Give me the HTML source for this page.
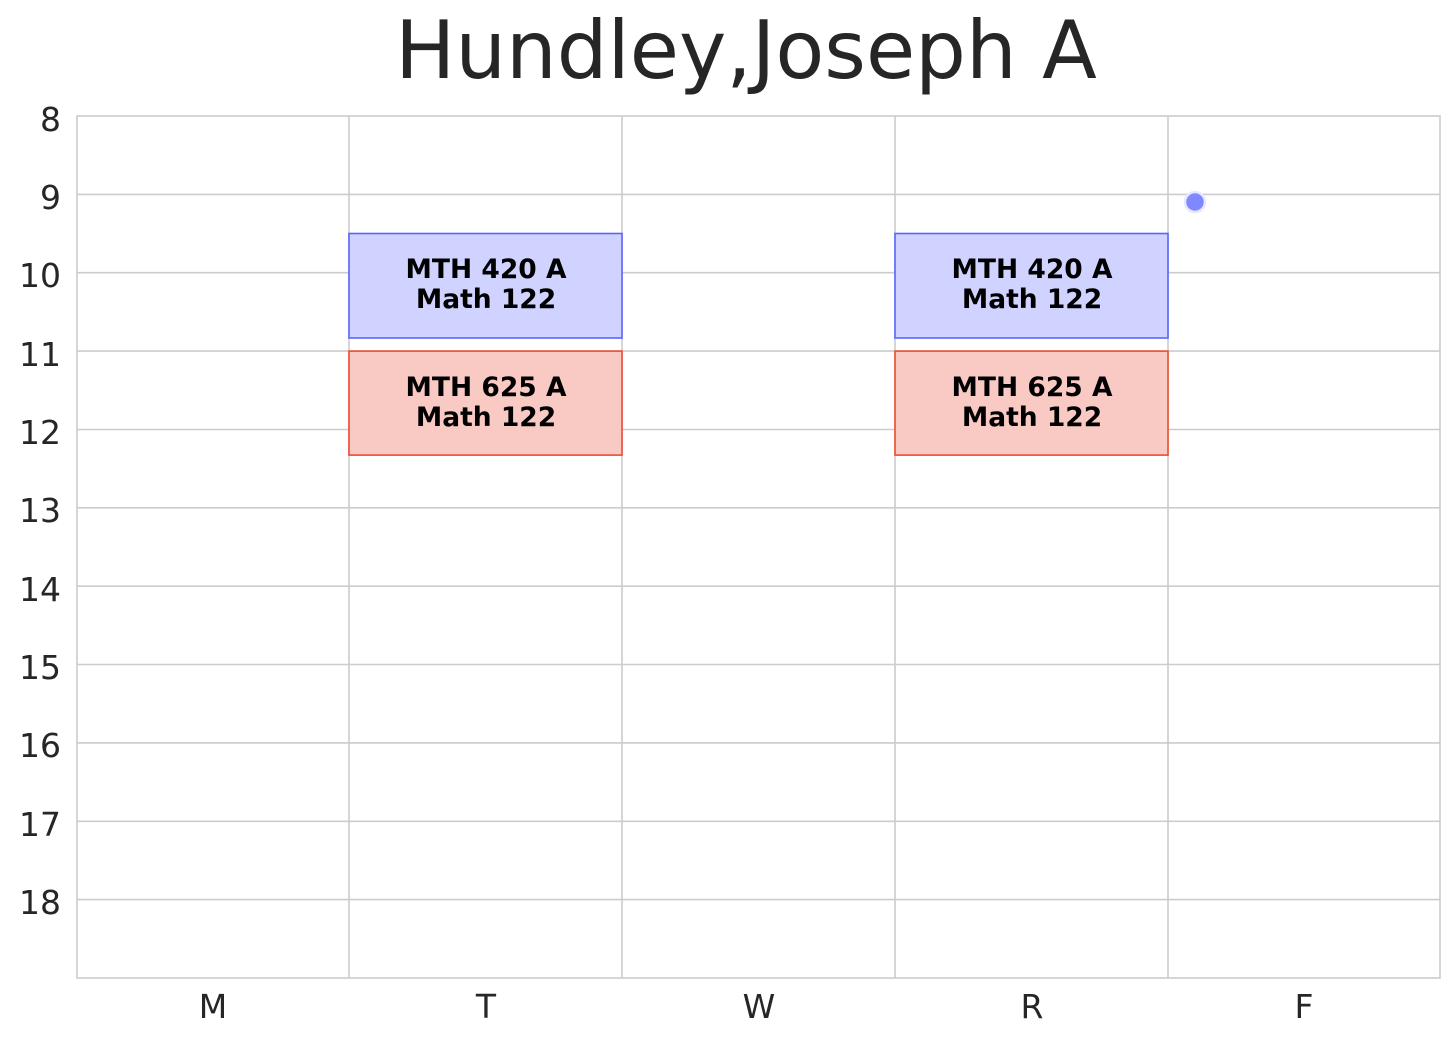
<!DOCTYPE html>
<html><head><style>body{margin:0;background:#fff}</style></head><body>
<svg width="1456" height="1040" xmlns="http://www.w3.org/2000/svg" font-family="DejaVu Sans, Liberation Sans, sans-serif">
<rect width="1456" height="1040" fill="#fff"/>
<text x="746" y="78" font-size="80" fill="#262626" text-anchor="middle">Hundley,Joseph A</text>
<g stroke="#cccccc" stroke-width="1.6">
<line x1="349" y1="116" x2="349" y2="978"/><line x1="622" y1="116" x2="622" y2="978"/>
<line x1="895" y1="116" x2="895" y2="978"/><line x1="1168" y1="116" x2="1168" y2="978"/>
<line x1="77" y1="194.4" x2="1440" y2="194.4"/><line x1="77" y1="272.7" x2="1440" y2="272.7"/>
<line x1="77" y1="351.1" x2="1440" y2="351.1"/><line x1="77" y1="429.5" x2="1440" y2="429.5"/>
<line x1="77" y1="507.8" x2="1440" y2="507.8"/><line x1="77" y1="586.2" x2="1440" y2="586.2"/>
<line x1="77" y1="664.5" x2="1440" y2="664.5"/><line x1="77" y1="742.9" x2="1440" y2="742.9"/>
<line x1="77" y1="821.3" x2="1440" y2="821.3"/><line x1="77" y1="899.6" x2="1440" y2="899.6"/>
<rect x="77" y="116" width="1363" height="862" fill="none"/>
</g>
<g stroke-width="1.6">
<rect x="349" y="233.5" width="273" height="104.5" fill="#d0d2ff" stroke="#5a64ff"/>
<rect x="895" y="233.5" width="273" height="104.5" fill="#d0d2ff" stroke="#5a64ff"/>
<rect x="349" y="351.1" width="273" height="104" fill="#f9cac3" stroke="#f04a30"/>
<rect x="895" y="351.1" width="273" height="104" fill="#f9cac3" stroke="#f04a30"/>
</g>
<g font-size="26.5" font-weight="bold" text-anchor="middle" fill="#000">
<text x="486" y="278">MTH 420 A</text><text x="486" y="308">Math 122</text>
<text x="1032" y="278">MTH 420 A</text><text x="1032" y="308">Math 122</text>
<text x="486" y="396">MTH 625 A</text><text x="486" y="426">Math 122</text>
<text x="1032" y="396">MTH 625 A</text><text x="1032" y="426">Math 122</text>
</g>
<circle cx="1195" cy="202" r="10" fill="#8088ff" stroke="#e6e8ff" stroke-width="2.5"/>
<g font-size="33" fill="#262626" text-anchor="end">
<text x="61" y="131">8</text><text x="61" y="209">9</text><text x="61" y="287">10</text>
<text x="61" y="366">11</text><text x="61" y="444">12</text><text x="61" y="522">13</text>
<text x="61" y="601">14</text><text x="61" y="679">15</text><text x="61" y="757">16</text>
<text x="61" y="836">17</text><text x="61" y="914">18</text>
</g>
<g font-size="33" fill="#262626" text-anchor="middle">
<text x="213" y="1018">M</text><text x="486" y="1018">T</text><text x="759" y="1018">W</text>
<text x="1032" y="1018">R</text><text x="1304" y="1018">F</text>
</g>
</svg>
</body></html>
